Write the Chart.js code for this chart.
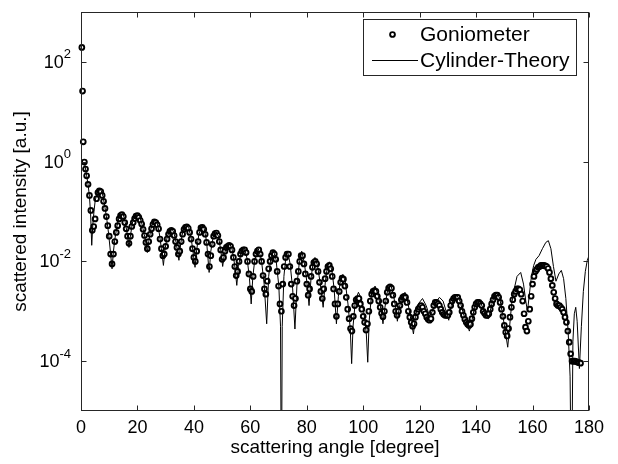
<!DOCTYPE html>
<html>
<head>
<meta charset="utf-8">
<title>Goniometer vs Cylinder-Theory</title>
<script src="https://cdn.jsdelivr.net/npm/chart.js@4.4.1/dist/chart.umd.min.js"></script>
<style>
  html, body { margin: 0; padding: 0; background: #fff; }
  canvas { display: block; }
</style>
</head>
<body>
<canvas id="scatterChart" width="618" height="464"></canvas>
<script>
// measured points (degree / a.u.)
const gonioAngle = [
  0.3, 0.55, 0.8, 1.2, 1.6, 2, 2.5, 3, 3.5,
  4, 4.5, 5, 5.5, 6, 6.5, 7, 7.5, 8, 8.5,
  9, 9.5, 10, 10.5, 11, 11.5, 12, 12.5, 13, 13.5,
  14, 14.5, 15, 15.5, 16, 16.5, 17, 17.5, 18, 18.5,
  19, 19.5, 20, 20.5, 21, 21.5, 22, 22.5, 23, 23.5,
  24, 24.5, 25, 25.5, 26, 26.5, 27, 27.5, 28, 28.5,
  29, 29.5, 30, 30.5, 31, 31.5, 32, 32.5, 33, 33.5,
  34, 34.5, 35, 35.5, 36, 36.5, 37, 37.5, 38, 38.5,
  39, 39.5, 40, 40.5, 41, 41.5, 42, 42.5, 43, 43.5,
  44, 44.5, 45, 45.5, 46, 46.5, 47, 47.5, 48, 48.5,
  49, 49.5, 50, 50.5, 51, 51.5, 52, 52.5, 53, 53.5,
  54, 54.5, 55, 55.5, 56, 56.5, 57, 57.5, 58, 58.5,
  59, 59.5, 60, 60.5, 61, 61.5, 62, 62.5, 63, 63.5,
  64, 64.5, 65, 65.5, 66, 66.5, 67, 67.5, 68, 68.5,
  69, 69.5, 70, 70.5, 71, 71.5, 72, 72.5, 73, 73.5,
  74, 74.5, 75, 75.5, 76, 76.5, 77, 77.5, 78, 78.5,
  79, 79.5, 80, 80.5, 81, 81.5, 82, 82.5, 83, 83.5,
  84, 84.5, 85, 85.5, 86, 86.5, 87, 87.5, 88, 88.5,
  89, 89.5, 90, 90.5, 91, 91.5, 92, 92.5, 93, 93.5,
  94, 94.5, 95, 95.5, 96, 96.5, 97, 97.5, 98, 98.5,
  99, 99.5, 100, 100.5, 101, 101.5, 102, 102.5, 103, 103.5,
  104, 104.5, 105, 105.5, 106, 106.5, 107, 107.5, 108, 108.5,
  109, 109.5, 110, 110.5, 111, 111.5, 112, 112.5, 113, 113.5,
  114, 114.5, 115, 115.5, 116, 116.5, 117, 117.5, 118, 118.5,
  119, 119.5, 120, 120.5, 121, 121.5, 122, 122.5, 123, 123.5,
  124, 124.5, 125, 125.5, 126, 126.5, 127, 127.5, 128, 128.5,
  129, 129.5, 130, 130.5, 131, 131.5, 132, 132.5, 133, 133.5,
  134, 134.5, 135, 135.5, 136, 136.5, 137, 137.5, 138, 138.5,
  139, 139.5, 140, 140.5, 141, 141.5, 142, 142.5, 143, 143.5,
  144, 144.5, 145, 145.5, 146, 146.5, 147, 147.5, 148, 148.5,
  149, 149.5, 150, 150.5, 151, 151.5, 152, 152.5, 153, 153.5,
  154, 154.5, 155, 155.5, 156, 156.5, 157, 157.5, 158, 158.5,
  159, 159.5, 160, 160.5, 161, 161.5, 162, 162.5, 163, 163.5,
  164, 164.5, 165, 165.5, 166, 166.5, 167, 167.5, 168, 168.5,
  169, 169.5, 170, 170.5, 171, 171.5, 172, 172.5, 173, 173.5,
  174, 174.5, 175, 175.5, 176, 176.5, 177
];
const gonioIntensity = [
  195, 26, 2.5, 0.98, 0.71, 0.52, 0.35, 0.21, 0.105,
  4.2e-2, 5.0e-2, 7.1e-2, 0.18, 0.24, 0.26, 0.25, 0.21, 0.16, 0.115,
  7.9e-2, 5.2e-2, 3.2e-2, 1.4e-2, 8.9e-3, 1.4e-2, 2.5e-2, 3.8e-2, 5.2e-2, 7.1e-2,
  8.3e-2, 8.7e-2, 7.9e-2, 6.0e-2, 4.5e-2, 3.2e-2, 2.3e-2, 3.2e-2, 5.0e-2, 6.0e-2,
  7.2e-2, 8.1e-2, 8.3e-2, 7.6e-2, 6.6e-2, 5.6e-2, 4.4e-2, 3.3e-2, 2.4e-2, 1.8e-2,
  2.5e-2, 3.5e-2, 4.5e-2, 5.5e-2, 6.2e-2, 6.0e-2, 5.4e-2, 4.5e-2, 2.8e-2, 1.8e-2,
  1.3e-2, 1.4e-2, 2.0e-2, 2.8e-2, 3.5e-2, 4.0e-2, 4.2e-2, 4.0e-2, 3.3e-2, 2.5e-2,
  1.9e-2, 1.4e-2, 1.6e-2, 2.5e-2, 3.5e-2, 4.4e-2, 4.8e-2, 4.9e-2, 4.6e-2, 3.8e-2,
  2.8e-2, 1.8e-2, 1.2e-2, 1.0e-2, 1.6e-2, 2.5e-2, 3.8e-2, 4.7e-2, 4.8e-2, 4.4e-2,
  3.5e-2, 2.4e-2, 1.4e-2, 7.9e-3, 1.3e-2, 2.2e-2, 3.2e-2, 3.6e-2, 3.7e-2, 3.3e-2,
  2.5e-2, 1.7e-2, 1.1e-2, 1.2e-2, 1.6e-2, 1.9e-2, 2.0e-2, 2.1e-2, 2.0e-2, 1.7e-2,
  1.2e-2, 7.9e-3, 5.2e-3, 6.3e-3, 1.0e-2, 1.4e-2, 1.6e-2, 1.7e-2, 1.7e-2, 1.5e-2,
  1.0e-2, 5.6e-3, 2.8e-3, 2.5e-3, 5.0e-3, 1.0e-2, 1.4e-2, 1.6e-2, 1.7e-2, 1.4e-2,
  1.0e-2, 5.2e-3, 2.8e-3, 2.2e-3, 4.0e-3, 7.1e-3, 1.0e-2, 1.3e-2, 1.5e-2, 1.4e-2,
  1.1e-2, 6.3e-3, 3.2e-3, 1.4e-3, 1.0e-3, 3.5e-3, 7.9e-3, 1.2e-2, 1.4e-2, 1.4e-2,
  7.9e-3, 3.5e-3, 2.0e-3, 1.3e-3, 1.8e-3, 4.0e-3, 6.3e-3, 1.0e-2, 1.3e-2, 1.3e-2,
  8.9e-3, 5.6e-3, 3.5e-3, 2.1e-3, 2.8e-3, 5.0e-3, 7.6e-3, 9.5e-3, 1.0e-2, 8.9e-3,
  6.3e-3, 3.8e-3, 2.5e-3, 1.8e-3, 2.8e-3, 4.5e-3, 6.3e-3, 7.9e-3, 8.3e-3, 7.1e-3,
  5.0e-3, 2.8e-3, 1.4e-3, 7.9e-4, 1.4e-3, 2.5e-3, 3.8e-3, 4.6e-3, 4.4e-3, 3.2e-3,
  1.9e-3, 1.1e-3, 7.1e-4, 4.5e-4, 4.0e-4, 7.9e-4, 1.3e-3, 1.7e-3, 1.8e-3, 1.8e-3,
  1.4e-3, 1.1e-3, 7.9e-4, 6.0e-4, 4.2e-4, 5.6e-4, 1.0e-3, 1.6e-3, 2.2e-3, 2.5e-3,
  2.6e-3, 2.5e-3, 2.0e-3, 1.6e-3, 1.2e-3, 9.1e-4, 7.8e-4, 1.0e-3, 1.6e-3, 2.4e-3,
  2.9e-3, 3.1e-3, 2.9e-3, 2.1e-3, 1.4e-3, 1.0e-3, 8.3e-4, 1.0e-3, 1.3e-3, 1.7e-3,
  1.9e-3, 2.0e-3, 1.9e-3, 1.5e-3, 1.0e-3, 7.6e-4, 6.0e-4, 5.0e-4, 5.6e-4, 7.6e-4,
  9.5e-4, 1.1e-3, 1.2e-3, 1.3e-3, 1.2e-3, 1.0e-3, 8.9e-4, 7.6e-4, 6.9e-4, 6.6e-4,
  7.1e-4, 9.5e-4, 1.3e-3, 1.5e-3, 1.5e-3, 1.4e-3, 1.3e-3, 1.1e-3, 9.5e-4, 8.7e-4,
  8.3e-4, 8.3e-4, 8.3e-4, 9.5e-4, 1.3e-3, 1.6e-3, 1.8e-3, 1.9e-3, 1.9e-3, 1.9e-3,
  1.6e-3, 1.3e-3, 1.0e-3, 8.3e-4, 6.9e-4, 6.0e-4, 5.5e-4, 5.2e-4, 5.5e-4, 7.1e-4,
  9.5e-4, 1.2e-3, 1.4e-3, 1.5e-3, 1.5e-3, 1.4e-3, 1.3e-3, 1.0e-3, 9.1e-4, 8.3e-4,
  8.3e-4, 8.9e-4, 1.1e-3, 1.4e-3, 1.7e-3, 2.0e-3, 2.1e-3, 2.1e-3, 1.9e-3, 1.5e-3,
  1.1e-3, 7.9e-4, 5.2e-4, 3.8e-4, 3.2e-4, 4.5e-4, 7.6e-4, 1.2e-3, 1.7e-3, 2.2e-3,
  2.5e-3, 2.8e-3, 2.8e-3, 2.7e-3, 2.2e-3, 1.6e-3, 8.9e-4, 4.8e-4, 4.0e-4, 6.3e-4,
  1.1e-3, 2.0e-3, 3.5e-3, 5.0e-3, 6.3e-3, 6.9e-3, 7.6e-3, 7.9e-3, 8.3e-3, 8.3e-3,
  8.3e-3, 8.1e-3, 7.9e-3, 7.2e-3, 6.0e-3, 4.5e-3, 3.3e-3, 2.4e-3, 1.8e-3, 1.4e-3,
  1.3e-3, 1.3e-3, 1.2e-3, 1.1e-3, 9.5e-4, 7.6e-4, 6.0e-4, 4.0e-4, 2.4e-4, 1.4e-4,
  1.0e-4, 1.0e-4, 1.0e-4, 9.8e-5, 9.5e-5, 9.3e-5, 9.1e-5
];

// cylinder theory curve
const theoryAngle = [
  1.2, 1.6, 2, 2.5, 3, 3.4, 3.8, 4.2, 4.6, 5, 5.5, 6, 6.6, 7.2, 7.8, 8.5, 9.2, 9.8,
  10.4, 11, 11.5, 12, 12.8, 13.5, 14.3, 15, 15.7, 16.4, 17, 17.6, 18.3, 19.1, 20,
  20.8, 21.6, 22.4, 23, 23.5, 24, 24.8, 25.5, 26.2, 27, 27.7, 28.5, 29.2, 29.8,
  30.5, 31.3, 32.1, 32.9, 33.7, 34.7, 35.3, 36, 36.7, 37.4, 38.2, 39, 39.8, 40.4,
  41, 41.7, 42.7, 43.6, 44.5, 45.4, 46, 46.8, 47.8, 48.7, 49.5, 50.2, 50.8, 51.6,
  52.6, 53.5, 54.4, 55.2, 55.8, 56.6, 57.9, 58.9, 59.7, 60.3, 60.9, 61.6, 62.8,
  63.9, 64.9, 65.8, 66.5, 67.2, 68.1, 69.1, 70.1, 70.7, 71, 71.3, 71.9, 72.5, 73.2,
  74.1, 75, 75.8, 76.5, 77.3, 78.2, 79.1, 80, 80.8, 81.5, 82.2, 82.9, 83.8, 84.8,
  85.8, 86.6, 87.2, 88, 88.9, 89.7, 90.5, 91.2, 92, 92.8, 93.6, 94.6, 95.4, 95.9,
  96.4, 97.2, 98.3, 99.3, 100.3, 101.1, 101.6, 102.1, 103, 104.2, 105.4, 106.4, 107,
  107.6, 108.6, 109.7, 110.8, 111.6, 112.1, 112.7, 113.7, 114.8, 115.9, 117, 117.8,
  118.5, 119.5, 121, 122.3, 123.5, 124.5, 125.7, 127, 128.3, 129.5, 130.3, 131.2,
  132.2, 133.2, 134.3, 135.5, 136.8, 137.6, 138.3, 139.3, 140.3, 141.2, 142.3, 143.5,
  144.4, 145.3, 146.3, 147.4, 148.4, 149.5, 150.5, 151.2, 151.8, 152.6, 153.5, 154.5,
  155.8, 156.8, 157.6, 158.2, 158.8, 159.6, 160.4, 161.2, 162.3, 163.5, 164.7, 165.6,
  166.5, 167.4, 168.3, 169.3, 170.2, 171, 171.8, 172.6, 173.3, 173.8, 174.3, 174.8,
  175.3, 175.8, 176.6, 177.3, 178, 178.7, 179.4, 180
];
const theoryIntensity = [
  0.98, 0.71, 0.52, 0.35, 0.2, 8.9e-2, 2.1e-2, 5.6e-2, 0.1, 0.16, 0.22, 0.27, 0.29, 0.26, 0.2, 0.12, 6.6e-2, 3.5e-2,
  1.6e-2, 7.1e-3, 1.6e-2, 2.8e-2, 5.2e-2, 7.9e-2, 9.5e-2, 8.7e-2, 6.0e-2, 3.5e-2, 1.9e-2, 3.5e-2, 6.3e-2, 8.3e-2, 9.1e-2,
  7.9e-2, 5.6e-2, 3.5e-2, 2.4e-2, 1.5e-2, 2.5e-2, 4.5e-2, 6.0e-2, 6.8e-2, 5.8e-2, 3.8e-2, 1.8e-2, 8.3e-3, 1.8e-2,
  3.0e-2, 4.2e-2, 4.6e-2, 3.8e-2, 2.4e-2, 1.05e-2, 2.2e-2, 3.8e-2, 5.0e-2, 5.4e-2, 4.6e-2, 3.0e-2, 1.4e-2, 7.6e-3,
  1.7e-2, 3.3e-2, 5.2e-2, 4.7e-2, 2.5e-2, 6.0e-3, 1.6e-2, 3.0e-2, 4.0e-2, 3.2e-2, 1.7e-2, 7.9e-3, 1.4e-2, 2.0e-2,
  2.3e-2, 1.8e-2, 8.9e-3, 3.3e-3, 7.9e-3, 1.4e-2, 1.9e-2, 1.1e-2, 4.5e-3, 1.4e-3, 5.0e-3, 1.1e-2, 1.8e-2,
  1.1e-2, 3.5e-3, 5.6e-4, 5.0e-3, 1.1e-2, 1.7e-2, 1.1e-2, 3.2e-3, 5.0e-4, 1e-7, 5.0e-4, 5.0e-3, 1.1e-2, 1.6e-2,
  8.9e-3, 2.8e-3, 4.4e-4, 3.2e-3, 8.9e-3, 1.6e-2, 9.5e-3, 4.0e-3, 1.3e-3, 4.5e-3, 8.9e-3, 1.2e-2, 8.3e-3, 3.5e-3,
  1.2e-3, 4.0e-3, 7.1e-3, 9.8e-3, 6.6e-3, 2.8e-3, 5.6e-4, 2.0e-3, 4.5e-3, 5.5e-3, 4.0e-3, 1.4e-3, 4.5e-4, 8.9e-5,
  5.0e-4, 1.6e-3, 2.4e-3, 1.8e-3, 8.9e-4, 3.5e-4, 9.5e-5, 6.3e-4, 2.4e-3, 3.2e-3, 2.0e-3, 1.0e-3, 5.6e-4,
  1.1e-3, 2.6e-3, 3.5e-3, 2.0e-3, 1.1e-3, 6.3e-4, 1.1e-3, 2.0e-3, 2.4e-3, 1.4e-3, 6.3e-4, 3.5e-4,
  7.9e-4, 1.4e-3, 1.8e-3, 1.3e-3, 7.9e-4, 1.0e-3, 1.5e-3, 1.9e-3, 1.6e-3, 9.5e-4, 6.6e-4, 1.3e-3,
  1.9e-3, 2.1e-3, 1.6e-3, 8.9e-4, 5.6e-4, 4.0e-4, 5.6e-4, 1.1e-3, 1.6e-3, 1.7e-3, 1.2e-3, 7.6e-4,
  7.1e-4, 1.2e-3, 2.0e-3, 2.3e-3, 1.8e-3, 7.9e-4, 3.5e-4, 1.9e-4, 4.5e-4, 1.4e-3, 2.8e-3, 5.0e-3,
  6.0e-3, 3.5e-3, 1.6e-3, 1.0e-3, 2.0e-3, 5.0e-3, 8.3e-3, 1.1e-2, 1.3e-2, 1.8e-2, 2.4e-2, 2.6e-2,
  1.8e-2, 7.9e-3, 4.0e-3, 5.6e-3, 6.6e-3, 4.5e-3, 1.8e-3, 4.0e-4, 5.0e-5, 1e-7, 2.5e-4, 8.9e-4,
  1.2e-3, 6.3e-4, 7.1e-5, 5.0e-4, 2.5e-3, 6.3e-3, 1.05e-2, 1.3e-2
];

const xTicks = [0, 20, 40, 60, 80, 100, 120, 140, 160, 180];
const yTickValues = [1e-4, 1e-2, 1, 1e2];
const yTickPowers = ['-4', '-2', '0', '2'];
const seriesNames = ['Goniometer', 'Cylinder-Theory'];

const FONT = '"Liberation Sans", Arial, Helvetica, sans-serif';

// MATLAB style box: inward ticks on all four sides, 10^n labels, legend inside
const matlabAxes = {
  id: 'matlabAxes',
  afterDraw(chart) {
    const ctx = chart.ctx;
    const a = chart.chartArea;
    const xs = chart.scales.x;
    const ys = chart.scales.y;
    const L = Math.round(a.left) + 0.5, R = Math.round(a.right) - 0.5;
    const T = Math.round(a.top) + 0.5, B = Math.round(a.bottom) - 0.5;
    ctx.save();
    ctx.strokeStyle = '#262626';
    ctx.lineWidth = 1;
    ctx.strokeRect(L, T, R - L, B - T);

    ctx.beginPath();
    xTicks.forEach(v => {
      const x = Math.round(xs.getPixelForValue(v)) + 0.5;
      ctx.moveTo(x, B); ctx.lineTo(x, B - 5);
      ctx.moveTo(x, T); ctx.lineTo(x, T + 5);
    });
    yTickValues.forEach(v => {
      const y = Math.round(ys.getPixelForValue(v)) + 0.5;
      ctx.moveTo(L, y); ctx.lineTo(L + 5, y);
      ctx.moveTo(R, y); ctx.lineTo(R - 5, y);
    });
    ctx.stroke();

    // y tick labels with superscript exponent
    ctx.fillStyle = '#000';
    ctx.textBaseline = 'middle';
    ctx.textAlign = 'left';
    yTickValues.forEach((v, i) => {
      const y = ys.getPixelForValue(v);
      ctx.font = '13px ' + FONT;
      const wExp = ctx.measureText(yTickPowers[i]).width;
      ctx.font = '18px ' + FONT;
      const wBase = ctx.measureText('10').width;
      const right = 71;
      ctx.fillText('10', right - wExp - wBase, y + 1);
      ctx.font = '13px ' + FONT;
      ctx.fillText(yTickPowers[i], right - wExp, y - 7);
    });

    // legend box
    const lx = 363.5, ly = 19.5, lw = 213, lh = 56;
    ctx.fillStyle = '#fff';
    ctx.fillRect(lx, ly, lw, lh);
    ctx.strokeStyle = '#262626';
    ctx.strokeRect(lx, ly, lw, lh);
    ctx.beginPath();
    ctx.arc(392.5, 34.5, 2.4, 0, Math.PI * 2);
    ctx.fillStyle = '#fff';
    ctx.fill();
    ctx.lineWidth = 1.9;
    ctx.strokeStyle = '#000';
    ctx.stroke();
    ctx.beginPath();
    ctx.lineWidth = 1;
    ctx.moveTo(372, 60.5);
    ctx.lineTo(418, 60.5);
    ctx.stroke();
    ctx.fillStyle = '#000';
    ctx.font = '21px ' + FONT;
    ctx.fillText(seriesNames[0], 420, 35);
    ctx.fillText(seriesNames[1], 420, 61);
    ctx.restore();
  }
};

new Chart(document.getElementById('scatterChart'), {
  type: 'scatter',
  data: {
    datasets: [
      {
        label: seriesNames[0],
        data: gonioAngle.map((x, i) => ({ x: x, y: gonioIntensity[i] })),
        showLine: false,
        pointStyle: 'circle',
        pointRadius: 2.4,
        pointBorderWidth: 1.9,
        pointBackgroundColor: '#fff',
        pointBorderColor: '#000',
        clip: false,
        order: 1
      },
      {
        label: seriesNames[1],
        data: theoryAngle.map((x, i) => ({ x: x, y: theoryIntensity[i] })),
        showLine: true,
        borderColor: '#000',
        borderWidth: 1,
        pointRadius: 0,
        tension: 0,
        order: 0
      }
    ]
  },
  options: {
    responsive: false,
    animation: false,
    layout: { padding: { left: 0, right: 29, top: 12, bottom: 0 } },
    plugins: { legend: { display: false }, tooltip: { enabled: false } },
    scales: {
      x: {
        type: 'linear',
        min: 0,
        max: 180,
        afterBuildTicks: s => { s.ticks = xTicks.map(v => ({ value: v })); },
        afterFit: s => { s.height = 53; },
        grid: { display: false, drawTicks: false },
        border: { display: false },
        ticks: { color: '#000', font: { family: FONT, size: 18 }, padding: 6, maxRotation: 0, autoSkip: false },
        title: {
          display: true,
          text: 'scattering angle [degree]',
          color: '#000',
          font: { family: FONT, size: 19 },
          padding: { top: 0, bottom: 5 }
        }
      },
      y: {
        type: 'logarithmic',
        min: 1e-5,
        max: 1e3,
        afterBuildTicks: s => { s.ticks = yTickValues.map(v => ({ value: v })); },
        afterFit: s => { s.width = 81; },
        grid: { display: false, drawTicks: false },
        border: { display: false },
        ticks: { display: false },
        title: {
          display: true,
          text: 'scattered intensity [a.u.]',
          color: '#000',
          font: { family: FONT, size: 19 },
          padding: { top: 9, bottom: 0 }
        }
      }
    }
  },
  plugins: [matlabAxes]
});
</script>
</body>
</html>
